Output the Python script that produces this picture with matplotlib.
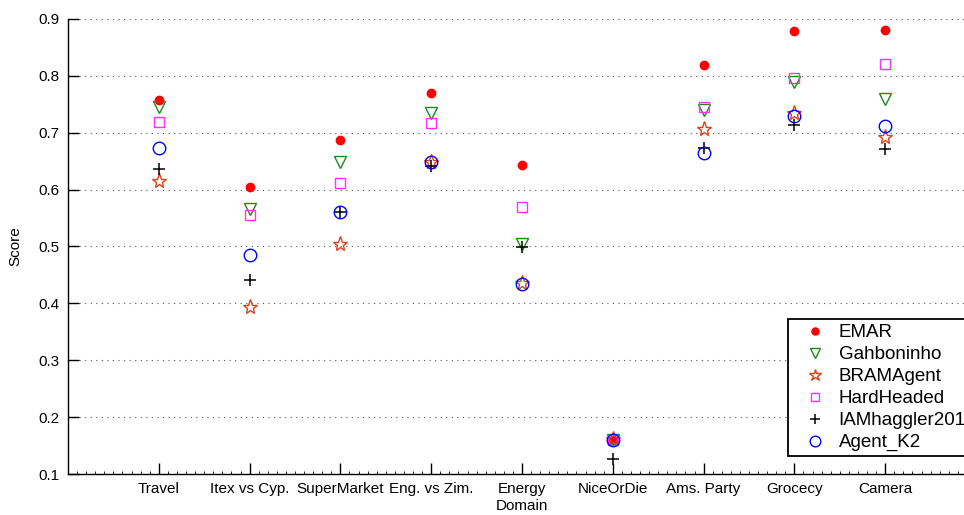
import matplotlib
matplotlib.use("Agg")
import matplotlib.pyplot as plt
from matplotlib.ticker import MultipleLocator

plt.rcParams['font.family'] = ['Liberation Sans', 'DejaVu Sans']

# 各ドメインのスコア
domains = ['Travel', 'Itex vs Cyp.', 'SuperMarket', 'Eng. vs Zim.', 'Energy\nDomain',
           'NiceOrDie', 'Ams. Party', 'Grocecy', 'Camera']
emar = [0.758, 0.605, 0.687, 0.770, 0.643, 0.160, 0.819, 0.879, 0.881]
gahboninho = [0.745, 0.566, 0.648, 0.735, 0.504, 0.160, 0.740, 0.789, 0.759]
bramagent = [0.615, 0.394, 0.504, 0.649, 0.436, 0.161, 0.707, 0.735, 0.693]
hardheaded = [0.719, 0.555, 0.612, 0.717, 0.569, 0.160, 0.745, 0.796, 0.821]
iamhaggler = [0.636, 0.441, 0.561, 0.642, 0.499, 0.126, 0.673, 0.714, 0.671]
agent_k2 = [0.673, 0.485, 0.561, 0.649, 0.434, 0.160, 0.664, 0.729, 0.712]

x = list(range(1, len(domains) + 1))

fig = plt.figure(figsize=(9.64, 5.15), dpi=100)
ax = fig.add_axes([68 / 964, 41 / 515, 908 / 964, 455 / 515])

ax.plot(x, emar, 'o', color='red', markersize=6, label='EMAR')
ax.plot(x, gahboninho, 'v', color='#1a8a1a', markerfacecolor='none', markersize=9,
        markeredgewidth=1, label='Gahboninho')
ax.plot(x, bramagent, '*', color='#e0401a', markerfacecolor='none', markersize=11,
        markeredgewidth=1, label='BRAMAgent')
ax.plot(x, hardheaded, 's', color='#ff30ff', markerfacecolor='none', markersize=7,
        markeredgewidth=1, label='HardHeaded')
ax.plot(x, iamhaggler, '+', color='black', markersize=9, markeredgewidth=1.1,
        label='IAMhaggler2011')
ax.plot(x, agent_k2, 'o', color='blue', markerfacecolor='none', markersize=9,
        markeredgewidth=1, label='Agent_K2')

ax.set_xlim(0, 10)
ax.set_ylim(0.1, 0.9)
ax.set_xticks(x)
ax.set_xticklabels(domains, fontsize=11)
ax.xaxis.set_minor_locator(MultipleLocator(0.1))
ax.set_yticks([0.1, 0.2, 0.3, 0.4, 0.5, 0.6, 0.7, 0.8, 0.9])
ax.set_yticklabels(['0.1', '0.2', '0.3', '0.4', '0.5', '0.6', '0.7', '0.8', '0.9'], fontsize=11)
ax.tick_params(axis='both', which='major', direction='in', length=8, width=1, pad=6)
ax.tick_params(axis='x', which='minor', direction='in', length=2, width=0.6)
ax.set_ylabel('Score', fontsize=11, labelpad=12)

ax.spines['top'].set_visible(False)
ax.spines['right'].set_visible(False)
for s in ['left', 'bottom']:
    ax.spines[s].set_linewidth(1)

ax.yaxis.grid(True, linestyle=(0, (1, 4)), color='#555555', linewidth=0.8)
ax.set_axisbelow(True)

# 凡例は軸の右端（図の外側）まで伸びる
leg = ax.legend(loc='lower left', bbox_to_anchor=(0.793, 0.0396), borderaxespad=0,
                fontsize=13.5, numpoints=1, handlelength=2.4, handletextpad=0.05,
                borderpad=0.25, labelspacing=0.26, fancybox=False, framealpha=1,
                edgecolor='black', markerscale=0.85)
leg.get_frame().set_linewidth(1.3)

fig.savefig('out.png', dpi=100)
